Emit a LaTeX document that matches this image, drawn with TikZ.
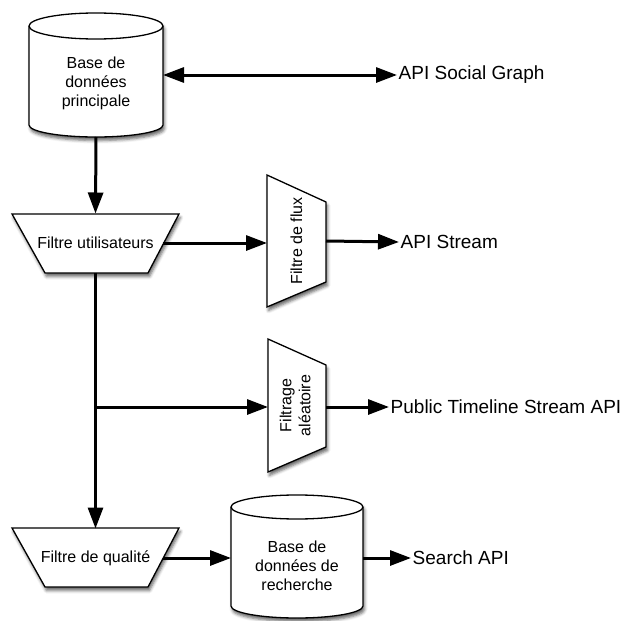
\documentclass[tikz,border=0pt]{standalone}
\usepackage{fontspec}
\setmainfont{Liberation Sans}
\usetikzlibrary{arrows.meta,shadows.blur}
\begin{document}
\begin{tikzpicture}[x=1pt,y=-1pt,
  shp/.style={draw=black, line width=1.3pt, fill=white, line join=miter,
    blur shadow={shadow xshift=1.5pt, shadow yshift=-3.5pt, shadow blur radius=3pt, shadow opacity=60}},
  outline/.style={draw=black, line width=1.3pt},
  box/.style={inner sep=0pt, outer sep=0pt, align=center, font=\fontsize{16}{19}\selectfont},
  api/.style={anchor=west, inner sep=1.5pt, font=\fontsize{19}{22}\selectfont},
  arr/.style={line width=3pt, -{Triangle[length=21pt,width=15pt,fill=black]}}]
\useasboundingbox (0,0) rectangle (625,621);

% main database
\path[shp] (29,26) -- (29,125) arc[start angle=180, end angle=0, x radius=67, y radius=12]
  -- (163,26) arc[start angle=0, end angle=-180, x radius=67, y radius=13] -- cycle;
\draw[outline] (29,26) arc[start angle=180, end angle=0, x radius=67, y radius=13];
\node[box, minimum width=134pt, minimum height=124pt] (db1) at (96,75) {};
\node[box] (db1t) at (96,83) {Base de\\données\\principale};

% user filter
\path[shp] (12,214) -- (179,214) -- (148,273) -- (45,273) -- cycle;
\node[box, minimum width=134pt, minimum height=59pt] (trap1) at (95.5,243) {Filtre utilisateurs};

% stream filter
\path[shp] (267,175) -- (326,202) -- (326,282) -- (267,307) -- cycle;
\node[box, minimum width=59pt, minimum height=132pt] (ff) at (296.5,241) {\rotatebox{90}{Filtre de flux}};

% random filter
\path[shp] (268,339) -- (326,365) -- (326,447) -- (268,472) -- cycle;
\node[box, minimum width=58pt, minimum height=133pt] (fa) at (297,405.5)
  {\rotatebox{90}{\begin{tabular}{@{}c@{}}Filtrage\\aléatoire\end{tabular}}};

% quality filter
\path[shp] (12,528) -- (179,528) -- (148,587) -- (45,587) -- cycle;
\node[box, minimum width=134pt, minimum height=59pt] (trap2) at (95.5,558) {Filtre de qualité};

% search database
\path[shp] (231,507) -- (231,606) arc[start angle=180, end angle=0, x radius=66, y radius=12]
  -- (363,507) arc[start angle=0, end angle=-180, x radius=66, y radius=12] -- cycle;
\draw[outline] (231,507) arc[start angle=180, end angle=0, x radius=66, y radius=12];
\node[box, minimum width=132pt, minimum height=123pt] (db2) at (297,556.5) {};
\node[box] (db2t) at (297,566) {Base de\\données de\\recherche};

% API labels
\node[api] (sg) at (397,75) {API Social Graph};
\node[api] (st) at (399,242) {API Stream};
\node[api] (pt) at (389,407) {Public Timeline Stream API};
\node[api] (sa) at (411,558) {Search API};

% connectors
\coordinate (j) at (95.5,407);
\coordinate (m) at (280,75);
\draw[arr] (m) -- (db1.east);
\draw[arr] (m) -- (sg.west);
\draw[arr] (db1.south) -- (trap1.north);
\draw[arr] (trap1.east) -- (trap1.east -| ff.west);
\draw[arr] (ff.east) -- (st.west);
\draw[arr] (trap1.south) -- (trap2.north);
\draw[arr] (j) -- (j -| fa.west);
\draw[arr] (fa.east |- pt.west) -- (pt.west);
\draw[arr] (trap2.east) -- (trap2.east -| db2.west);
\draw[arr] (db2.east |- sa.west) -- (sa.west);
\end{tikzpicture}
\end{document}
